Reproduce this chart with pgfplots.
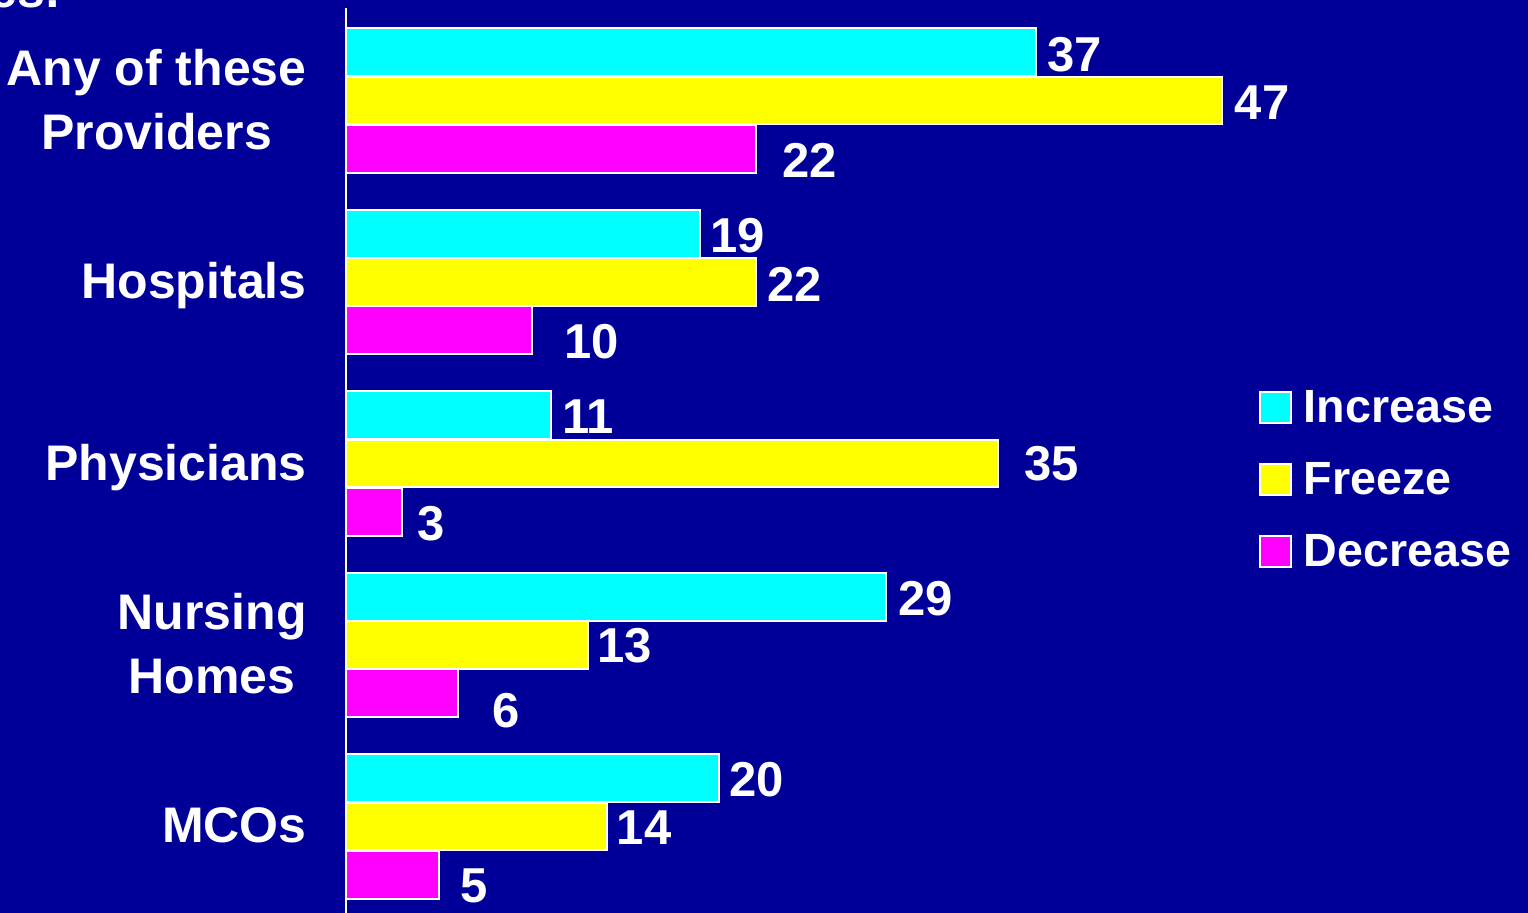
\documentclass[border=0pt]{standalone}
\usepackage{fontspec}
\setmainfont{Liberation Sans}
\usepackage{pgfplots}
\usepackage{pgfplotstable}
\pgfplotsset{compat=1.18}
\definecolor{bg}{RGB}{0,0,153}
\definecolor{inc}{RGB}{0,255,255}
\definecolor{frz}{RGB}{255,255,0}
\definecolor{dec}{RGB}{255,0,255}

% pos: 4 = top group; dx/dy = label offsets in px (1px = 0.5pt)
\pgfplotstableread{
pos inc idx idy frz fdx fdy dec ddx ddy
4   37  11  2   47  12  2   22  25  11.5
3   19  9   2   22  10  2   10  31  11.5
2   11  10  1   35  25  0   3   15  11.5
1   29  11  2   13  8   1   6   34  17.5
0   20  10  1.7 14  9   1   5   20  11
}\data

\pgfplotsset{
  sq/.style={legend image code/.code={%
    \draw[##1, draw=white, line width=1pt] (0pt,-7.75pt) rectangle (15.5pt,7.75pt);}},
}

\begin{document}
\begin{tikzpicture}
\fill[bg] (0,0) rectangle (764pt,456.5pt);
\useasboundingbox (0,0) rectangle (764pt,456.5pt);
\node[anchor=base east, text=white, inner sep=0pt,
  font=\bfseries\fontsize{25}{30}\selectfont] at (31pt,452.5pt) {ces:};
\begin{axis}[
  at={(173pt,0pt)}, anchor=south west,
  width=591pt, height=452.5pt, scale only axis,
  xmin=0, xmax=63.42, ymin=-0.4766, ymax=4.5096,
  axis x line=none, axis y line=left,
  axis line style={-, white, line width=1pt},
  xbar, bar width=0.264,
  ytick={0,1,2,3,4}, major tick length=0pt,
  yticklabels={MCOs, {Nursing\\Homes}, Physicians, Hospitals, {Any of these\\Providers}},
  yticklabel style={font=\bfseries\fontsize{25}{32}\selectfont, text=white,
    align=center, anchor=east, inner sep=0pt, text depth=0pt,
    xshift=-19.5pt, yshift=0.75pt},
  /pgf/number format/assume math mode=true,
  point meta=x,
  nodes near coords,
  every node near coord/.append style={anchor=west, inner sep=0pt, text=white,
    font=\bfseries\fontsize{24.5}{24.5}\selectfont,
    xshift={0.5pt*\ldx}, yshift={-0.5pt*\ldy}},
  legend style={at={(0.7724,0.5779)}, anchor=north west, draw=none, fill=none,
    inner sep=0pt, outer sep=0pt, text=white,
    font=\bfseries\fontsize{23.3}{23.3}\selectfont,
    row sep=18.5pt, column sep=6pt, nodes={inner sep=0pt}},
  legend cell align=left,
]
\addplot[fill=inc, draw=white, line width=1pt, bar shift=0.266, sq,
  visualization depends on={\thisrow{idx}\as\ldx},
  visualization depends on={\thisrow{idy}\as\ldy}]
  table[x=inc, y=pos] {\data};
\addplot[fill=frz, draw=white, line width=1pt, bar shift=0, sq,
  visualization depends on={\thisrow{fdx}\as\ldx},
  visualization depends on={\thisrow{fdy}\as\ldy}]
  table[x=frz, y=pos] {\data};
\addplot[fill=dec, draw=white, line width=1pt, bar shift=-0.266, sq,
  visualization depends on={\thisrow{ddx}\as\ldx},
  visualization depends on={\thisrow{ddy}\as\ldy}]
  table[x=dec, y=pos] {\data};
\legend{Increase, Freeze, Decrease}
\end{axis}
\end{tikzpicture}
\end{document}
